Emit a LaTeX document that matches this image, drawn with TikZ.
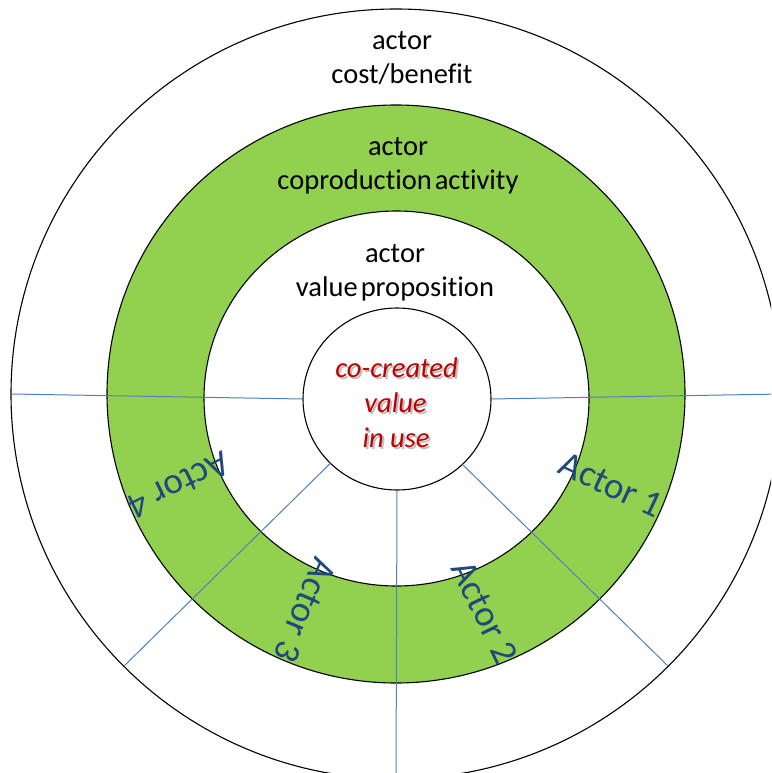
\documentclass[tikz,border=0pt]{standalone}
\usepackage{fontspec}
\setmainfont{Carlito}[Ligatures=NoCommon]
\usetikzlibrary{shapes.geometric}
\definecolor{ringgreen}{RGB}{146,208,80}
\definecolor{spoke}{RGB}{79,129,189}
\definecolor{actorblue}{RGB}{31,73,125}
\definecolor{valuered}{RGB}{192,0,0}
\definecolor{shadowgrey}{RGB}{190,190,190}

% text with a light grey drop shadow set behind it
\newcommand\softshadow[1]{\makebox[0pt][l]{\kern2pt\raisebox{-2pt}{\textcolor{shadowgrey}{#1}}}#1}

\begin{document}
\begin{tikzpicture}[x=1pt,y=-1pt,
  band/.style={ellipse, draw=black, line width=1.1pt, inner sep=0pt, outer sep=0pt},
  spokeline/.style={draw=spoke, line width=1pt},
  caption/.style={font=\fontsize{28.5}{34}\selectfont, text=black, anchor=base, inner sep=0pt},
  valuetext/.style={font=\fontsize{28.5}{34}\selectfont\itshape, text=valuered, anchor=base, inner sep=0pt},
  actorlabel/.style={font=\fontsize{37}{40}\selectfont, text=actorblue, inner sep=0pt}]
\useasboundingbox (0,0) rectangle (771,773);
\clip (0,0) rectangle (771,773);
\fill[white] (0,0) rectangle (771,773);

% concentric bands
\node[band, fill=white, minimum width=770pt, minimum height=770pt] (rim) at (396,394) {};
\node[band, fill=ringgreen, minimum width=578pt, minimum height=578pt] (ring) at (396,394) {};
\node[band, fill=white, minimum width=385pt, minimum height=375pt] (hub) at (396.5,398.5) {};
\node[band, fill=white, minimum width=188pt, minimum height=182pt] (core) at (397,399) {};

% sector dividers
\draw[spokeline] (core.180) -- (rim.180);
\draw[spokeline] (core.0) -- (rim.0);
\draw[spokeline] (core.-45) -- (rim.-45);
\draw[spokeline] (core.-136) -- (rim.-135);
\draw[spokeline] (core.-90) -- (rim.-90);

% band captions
\node[caption] (costA) at (402,50) {actor};
\node[caption] (costB) at (402,84) {cost/benefit};
\node[caption] (coprodA) at (398,155) {actor};
\node[caption] (coprodB) at (398,189) {coproduction\hspace{3pt}activity};
\node[caption] (propA) at (395,262) {actor};
\node[caption] (propB) at (395,296) {value\hspace{3pt}proposition};

% centre text
\node[valuetext] (valA) at (396.5,377) {\softshadow{co-created}};
\node[valuetext] (valB) at (395.5,412) {\softshadow{value}};
\node[valuetext] (valC) at (396,447) {\softshadow{in use}};

% actor labels
\node[actorlabel, rotate=-25] (actor1) at (611,485) {Actor 1};
\node[actorlabel, rotate=-64] (actor2) at (485,612) {Actor 2};
\node[actorlabel, rotate=-113] (actor3) at (305,610) {Actor 3};
\node[actorlabel, rotate=-154] (actor4) at (179,485) {Actor 4};
\end{tikzpicture}
\end{document}
